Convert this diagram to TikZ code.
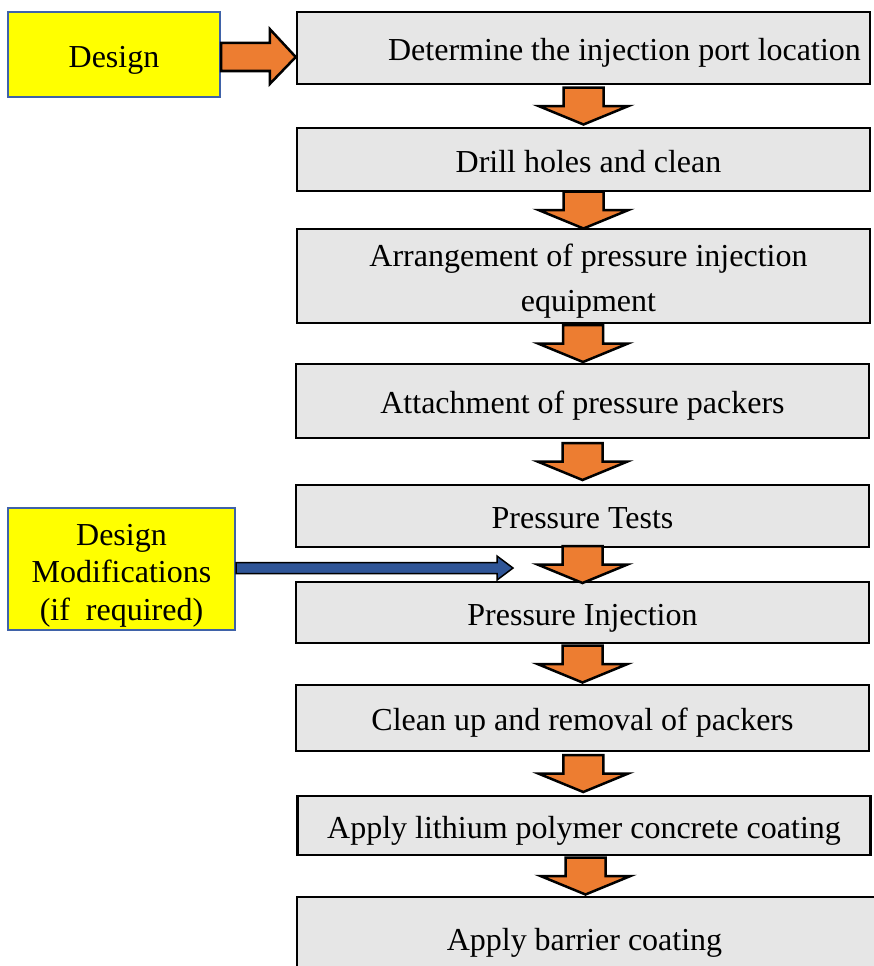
\documentclass[tikz,border=0pt]{standalone}
\usepackage{fontspec}
\setmainfont{Liberation Serif}
\usetikzlibrary{calc}
\definecolor{boxgray}{HTML}{E6E6E6}
\definecolor{arrorange}{HTML}{ED7D31}
\definecolor{ybox}{HTML}{FFFF00}
\definecolor{yborder}{HTML}{3F62A8}
\definecolor{bluearr}{HTML}{2F5597}
\newcommand\orangedown[2]{%
  \coordinate (m#1#2) at ($(#1.south)!0.5!(#2.north)$);
  \filldraw[orarrow]
    ($(m#1#2)+(-20pt,18.5pt)$) -- ($(m#1#2)+(20pt,18.5pt)$) --
    ($(m#1#2)+(20pt,0pt)$) -- ($(m#1#2)+(45pt,0pt)$) --
    ($(m#1#2)+(0pt,-18.5pt)$) -- ($(m#1#2)+(-45pt,0pt)$) --
    ($(m#1#2)+(-20pt,0pt)$) -- cycle;}
\begin{document}
\begin{tikzpicture}[x=1pt,y=-1pt,
  stepbox/.style={draw=black, line width=2.5pt, fill=boxgray, inner sep=0pt,
    minimum width=573pt, align=center, text height=25pt, text depth=0pt,
    font=\fontsize{32}{45}\selectfont},
  inbox/.style={draw=yborder, line width=2pt, fill=ybox, inner sep=0pt,
    align=center, text height=25pt, text depth=0pt,
    font=\fontsize{32}{37.5}\selectfont},
  orarrow/.style={draw=black, line width=2.5pt, fill=arrorange, line join=miter},
  bluearrow/.style={draw=black, line width=1.5pt, fill=bluearr, line join=miter},
  ]
\useasboundingbox (0,0) rectangle (873,966);

\node[stepbox, minimum height=72pt] (b1) at (583.5,48) {\hspace*{82pt}Determine the injection port location};
\node[stepbox, minimum height=63pt] (b2) at (583.5,159.5) {\hspace*{10pt}Drill holes and clean};
\node[stepbox, minimum height=94pt, text height=70pt] (b3) at (583.5,276) {\hspace*{10pt}Arrangement of pressure injection\\\hspace*{10pt}equipment};
\node[stepbox, minimum height=74pt] (b4) at (582.5,401) {Attachment of pressure packers};
\node[stepbox, minimum height=62pt] (b5) at (582.5,516) {Pressure Tests};
\node[stepbox, minimum height=61pt] (b6) at (582.5,612.5) {Pressure Injection};
\node[stepbox, minimum height=66pt] (b7) at (582.5,718) {Clean up and removal of packers};
\node[stepbox, minimum height=59pt] (b8) at (584,825.5) {Apply lithium polymer concrete coating};
\node[stepbox, minimum height=82pt, minimum width=580pt] (b9) at (587,938) {\hspace*{-5pt}Apply barrier coating};

\node[inbox, minimum width=212pt, minimum height=85pt] (d1) at (114,54.5) {Design};
\node[inbox, minimum width=227pt, minimum height=122pt, text height=102pt] (d2) at (121.5,569) {Design\\Modifications\\(if\ \ required)};

\orangedown{b1}{b2}
\orangedown{b2}{b3}
\orangedown{b3}{b4}
\orangedown{b4}{b5}
\orangedown{b5}{b6}
\orangedown{b6}{b7}
\orangedown{b7}{b8}
\orangedown{b8}{b9}

% Design -> first step
\filldraw[orarrow] let \p1=(d1.east), \p2=(b1.west) in
  (\x1,-43pt) -- ({\x2-26pt},-43pt) -- ({\x2-26pt},-29pt)
  -- (\x2,-57pt) -- ({\x2-26pt},-84pt) -- ({\x2-26pt},-71pt) -- (\x1,-71pt) -- cycle;

% Design modifications -> between tests and injection
\coordinate (btip) at (513,568);
\filldraw[bluearrow] let \p1=(d2.east), \p2=(btip) in
  (\x1,{\y2+5.5pt}) -- ({\x2-16pt},{\y2+5.5pt}) -- ({\x2-16pt},{\y2+12pt})
  -- (\x2,\y2) -- ({\x2-16pt},{\y2-12pt}) -- ({\x2-16pt},{\y2-5.5pt}) -- (\x1,{\y2-5.5pt}) -- cycle;
\end{tikzpicture}
\end{document}
